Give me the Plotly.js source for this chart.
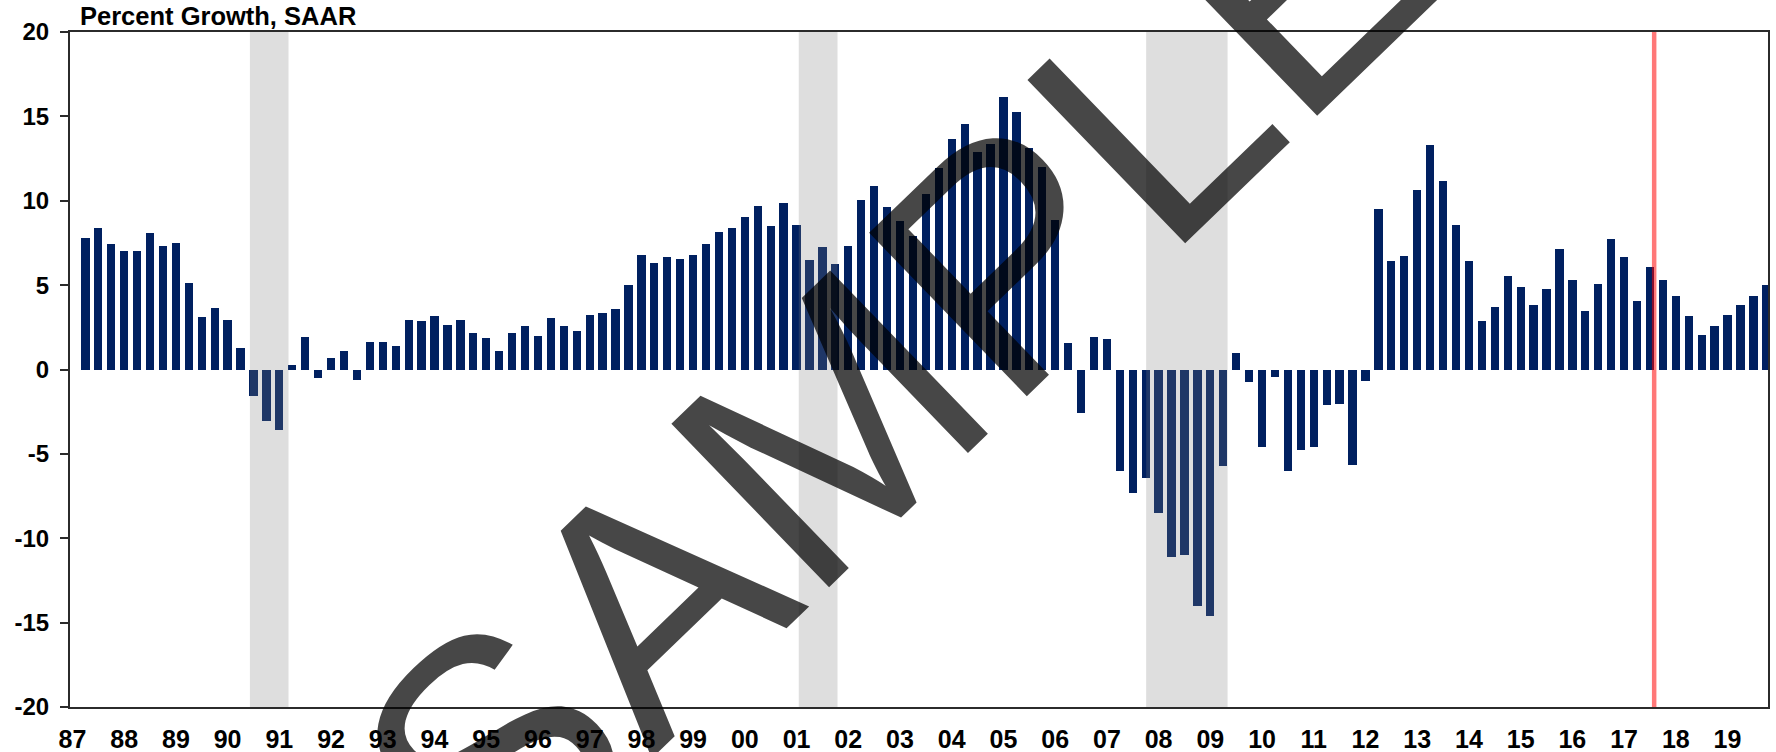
<!DOCTYPE html>
<html>
<head>
<meta charset="utf-8">
<script src="https://cdn.plot.ly/plotly-3.0.1.min.js"></script>
<style>
  html, body { margin: 0; padding: 0; background: #ffffff; }
  #chart { width: 1776px; height: 752px; }
</style>
</head>
<body>
<div id="chart"></div>
<script>
// ---- Data ----
const startYear = 1987;
const endYear = 2019;
const quarterNames = ["Q1", "Q2", "Q3", "Q4"];

// Percent growth, SAAR, one value per quarter from 1987Q1 to 2019Q4 (null = no value)
const growth = [
  null, 7.8, 8.4, 7.45,          // 1987
  7.0, 7.05, 8.1, 7.3,           // 1988
  7.5, 5.1, 3.1, 3.65,           // 1989
  2.95, 1.3, -1.55, -3.05,       // 1990
  -3.6, 0.28, 1.95, -0.48,       // 1991
  0.7, 1.1, -0.63, 1.65,         // 1992
  1.63, 1.38, 2.93, 2.89,        // 1993
  3.17, 2.61, 2.93, 2.16,        // 1994
  1.87, 1.11, 2.14, 2.58,        // 1995
  2.0, 3.07, 2.58, 2.3,          // 1996
  3.23, 3.33, 3.59, 5.03,        // 1997
  6.76, 6.34, 6.64, 6.54,        // 1998
  6.76, 7.43, 8.14, 8.38,        // 1999
  9.01, 9.67, 8.5, 9.86,         // 2000
  8.58, 6.46, 7.25, 6.26,        // 2001
  7.29, 10.06, 10.87, 9.63,      // 2002
  8.78, 7.9, 10.38, 11.97,       // 2003
  13.67, 14.56, 12.88, 13.37,    // 2004
  16.14, 15.27, 13.1, 12.0,      // 2005
  8.84, 1.57, -2.59, 1.9,        // 2006
  1.81, -6.02, -7.31, -6.45,     // 2007
  -8.51, -11.09, -10.97, -14.02, // 2008
  -14.59, -5.72, 0.95, -0.77,    // 2009
  -4.59, -0.43, -6.02, -4.77,    // 2010
  -4.59, -2.09, -2.06, -5.68,    // 2011
  -0.71, 9.51, 6.42, 6.7,        // 2012
  10.62, 13.31, 11.17, 8.56,     // 2013
  6.42, 2.89, 3.73, 5.57,        // 2014
  4.91, 3.84, 4.75, 7.13,        // 2015
  5.31, 3.45, 5.07, 7.71,        // 2016
  6.65, 4.08, 6.06, 5.31,        // 2017
  4.36, 3.17, 2.06, 2.58,        // 2018
  3.23, 3.83, 4.34, 5.01         // 2019
];

// Recession periods (shaded)
const recessionStarts = ["1990-07-01", "2001-03-01", "2007-12-01"];
const recessionEnds   = ["1991-04-01", "2001-12-01", "2009-07-01"];

// Red vertical marker date
const markerDate = "2017-10-15";

// Y axis tick values and labels
const yTickVals = [-20, -15, -10, -5, 0, 5, 10, 15, 20];
const yTickText = ["-20", "-15", "-10", "-5", "0", "5", "10", "15", "20"];

const titleText = "Percent Growth, SAAR";
const watermarkText = "SAMPLE";

// ---- Build categories ----
const categories = [];
const yearTickVals = [];
const yearTickText = [];
const yearTickIdx = [];
for (let y = startYear; y <= endYear; y++) {
  for (let q = 0; q < 4; q++) {
    const c = y + quarterNames[q];
    if (q === 0) {
      yearTickVals.push(c);
      yearTickText.push(String(y).slice(2));
      yearTickIdx.push(categories.length);
    }
    categories.push(c);
  }
}

// ---- Style ----
const FONT = "Liberation Sans, Arial, sans-serif";
const barColor = "#002060";
const axisColor = "#2b2b2b";
const idxRange = [-0.19, categories.length - 0.87];
const tickShift = idxRange[0];

const traces = [
  {
    type: "bar",
    x: categories,
    y: growth,
    xaxis: "x",
    yaxis: "y",
    width: 0.64,
    marker: { color: barColor, line: { width: 0 } },
    hoverinfo: "x+y"
  },
  {
    type: "scatter",
    mode: "lines",
    x: [markerDate, markerDate],
    y: [yTickVals[0], yTickVals[yTickVals.length - 1]],
    xaxis: "x3",
    yaxis: "y",
    line: { color: "rgba(255,0,0,0.53)", width: 4.5 },
    hoverinfo: "skip",
    showlegend: false
  }
];

const shapes = recessionStarts.map((s, k) => ({
  type: "rect",
  xref: "x3",
  yref: "paper",
  x0: s,
  x1: recessionEnds[k],
  y0: 0,
  y1: 1,
  fillcolor: "rgba(124,124,124,0.25)",
  line: { width: 0 },
  layer: "above"
}));

const layout = {
  width: 1776,
  height: 752,
  margin: { l: 70, r: 8, t: 32, b: 45, pad: 0 },
  paper_bgcolor: "#ffffff",
  plot_bgcolor: "#ffffff",
  showlegend: false,
  bargap: 0,
  font: { family: FONT, color: "#000000" },
  title: {
    text: titleText,
    font: { family: FONT, size: 25.5, weight: "bold", color: "#000000" },
    xref: "container",
    yref: "container",
    x: 80 / 1776,
    xanchor: "left",
    y: 1 - 16 / 752,
    yanchor: "middle"
  },
  xaxis: {
    type: "category",
    range: idxRange,
    tickmode: "array",
    tickvals: yearTickVals,
    ticktext: yearTickText,
    ticks: "",
    ticklabelstandoff: 9,
    tickfont: { family: FONT, size: 25, weight: "bold", color: "#000000" },
    showline: true,
    linecolor: axisColor,
    linewidth: 2,
    mirror: true,
    showgrid: false,
    zeroline: false,
    fixedrange: true
  },
  xaxis2: {
    type: "linear",
    overlaying: "x",
    anchor: "free",
    position: 0.5,
    range: idxRange,
    tickmode: "array",
    tickvals: yearTickIdx.map(v => v + tickShift),
    showticklabels: false,
    ticks: "outside",
    ticklen: 7,
    tickwidth: 1.6,
    tickcolor: "#111111",
    showline: true,
    linecolor: "#111111",
    linewidth: 1.6,
    showgrid: false,
    zeroline: false,
    fixedrange: true
  },
  xaxis3: {
    type: "date",
    overlaying: "x",
    anchor: "y",
    range: [startYear + "-01-01", (endYear + 1) + "-01-01"],
    visible: false,
    showgrid: false,
    zeroline: false,
    fixedrange: true
  },
  yaxis: {
    range: [yTickVals[0], yTickVals[yTickVals.length - 1]],
    tickmode: "array",
    tickvals: yTickVals,
    ticktext: yTickText,
    ticks: "outside",
    ticklen: 8,
    tickwidth: 2,
    tickcolor: axisColor,
    ticklabelstandoff: 6,
    tickfont: { family: FONT, size: 24, weight: "bold", color: "#000000" },
    showline: true,
    linecolor: axisColor,
    linewidth: 2,
    mirror: true,
    showgrid: false,
    zeroline: false,
    fixedrange: true
  },
  shapes: shapes,
  annotations: [
    {
      text: watermarkText,
      xref: "paper",
      yref: "paper",
      x: (895 - 70) / 1698,
      y: (707 - 365) / 675,
      xanchor: "center",
      yanchor: "middle",
      showarrow: false,
      textangle: -44,
      font: { family: FONT, size: 330, color: "rgba(0,0,0,0.72)" }
    }
  ]
};

Plotly.newPlot("chart", traces, layout, { displayModeBar: false, staticPlot: true });
</script>
</body>
</html>
